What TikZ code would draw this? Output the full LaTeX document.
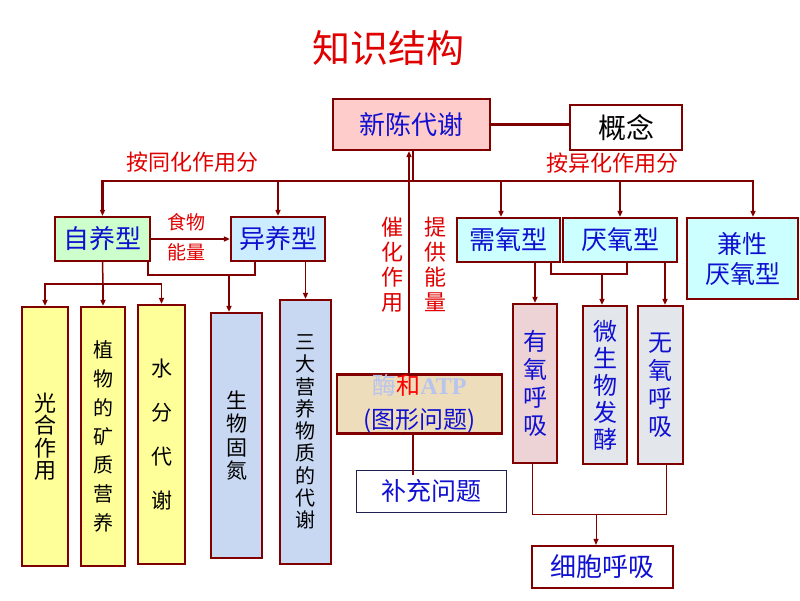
\documentclass[tikz,border=0pt]{standalone}
\usepackage{fontspec}
\setmainfont{Noto Sans CJK SC}
\newfontfamily\timesf{Liberation Serif}
\usetikzlibrary{arrows.meta}
\definecolor{dred}{HTML}{800000}
\definecolor{tblue}{HTML}{1010D0}
\definecolor{lred}{HTML}{E00000}
\definecolor{pinkf}{HTML}{FFCCCC}
\definecolor{greenf}{HTML}{CCFFCC}
\definecolor{bluef}{HTML}{CCECFF}
\definecolor{cyanf}{HTML}{CCFFFF}
\definecolor{yellowf}{HTML}{FFFF99}
\definecolor{lavf}{HTML}{C8D8F2}
\definecolor{rosef}{HTML}{EDD3D6}
\definecolor{grayf}{HTML}{E3E7EC}
\definecolor{tanf}{HTML}{EEDDBB}
\definecolor{fblue}{HTML}{B8C4F0}
\definecolor{navy}{HTML}{202050}
\newcommand\myfs[2]{\fontsize{#1}{#2}\selectfont}
\begin{document}
\begin{tikzpicture}[x=1pt,y=-1pt,
  box/.style={draw=dred, line width=2.2pt, inner sep=0pt, align=center, text=tblue},
  conn/.style={draw=dred, line width=1.5pt},
  tconn/.style={draw=dred, line width=2.2pt},
  arr/.style={conn, -{Triangle[length=6pt,width=5pt]}},
  tarr/.style={tconn, -{Triangle[length=6pt,width=5pt]}},
  lab/.style={text=lred, inner sep=0pt, align=center}]
\useasboundingbox (0,0) rectangle (800,600);
\fill[white] (0,0) rectangle (800,600);

% title
\node[lab, font=\myfs{38}{40}, text=lred] (title) at (388,48) {知识结构};

% top
\node[box, fill=pinkf, minimum width=157, minimum height=51, font=\myfs{26}{28}] (xc) at (411.5,124.5) {新陈代谢};
\node[box, fill=white, text=black, minimum width=112, minimum height=45, font=\myfs{28}{30}] (gn) at (626,127.5) {概念};
\node[lab, font=\myfs{22}{24}] (tonghua) at (192,162) {按同化作用分};
\node[lab, font=\myfs{22}{24}] (yihua) at (612,163) {按异化作用分};

% second row
\node[box, fill=greenf, minimum width=95, minimum height=44, font=\myfs{26}{28}] (zy) at (102.5,239) {自养型};
\node[box, fill=bluef, minimum width=94, minimum height=44, font=\myfs{26}{28}] (yy) at (278,239) {异养型};
\node[box, fill=cyanf, minimum width=103, minimum height=44, font=\myfs{26}{28}] (xy) at (508.5,240) {需氧型};
\node[box, fill=cyanf, minimum width=114, minimum height=44, font=\myfs{26}{28}] (ay) at (620,240) {厌氧型};
\node[box, fill=cyanf, minimum width=111, minimum height=81, font=\myfs{25}{30}] (jx) at (742.5,258.5) {兼性\\厌氧型};
\node[lab, font=\myfs{19}{20}] (shiwu) at (186,222) {食物};
\node[lab, font=\myfs{19}{20}] (nengl) at (186,252) {能量};

% vertical labels
\node[lab, font=\myfs{22}{25}] (cuihua) at (392,265) {催\\化\\作\\用};
\node[lab, font=\myfs{22}{25}] (tigong) at (435,264) {提\\供\\能\\量};

% third row left
\node[box, fill=yellowf, text=black, minimum width=46, minimum height=259, font=\myfs{22}{22.4}] (b1) at (45,436.5) {光\\合\\作\\用};
\node[box, fill=yellowf, text=black, minimum width=44, minimum height=259, font=\myfs{20}{28.7}] (b2) at (103,436.5) {植\\物\\的\\矿\\质\\营\\养};
\node[box, fill=yellowf, text=black, minimum width=47, minimum height=259, font=\myfs{21}{43.7}] (b3) at (161.5,434.5) {水\\分\\代\\谢};
\node[box, fill=lavf, text=black, minimum width=51, minimum height=245, font=\myfs{21}{23.3}] (b4) at (236.5,435.5) {生\\物\\固\\氮};
\node[box, fill=lavf, text=black, minimum width=51, minimum height=264, font=\myfs{20}{22.3}] (b5) at (305.5,432) {三\\大\\营\\养\\物\\质\\的\\代\\谢};

% middle
\node[box, fill=tanf, minimum width=165, minimum height=58, font=\myfs{24}{34}] (mei) at (419.5,404)
  {{\color{fblue}酶}{\color{red}和}{\timesf\bfseries\color{fblue}ATP}\\(图形问题)};
\node[box, draw=navy, line width=1pt, fill=white, minimum width=150, minimum height=42, font=\myfs{25}{27}] (bc) at (431,491) {补充问题};

% third row right
\node[box, fill=rosef, minimum width=44, minimum height=159, font=\myfs{24}{28}] (yo) at (535,383.5) {有\\氧\\呼\\吸};
\node[box, fill=grayf, minimum width=44, minimum height=158, font=\myfs{24}{27}] (ws) at (605,385) {微\\生\\物\\发\\酵};
\node[box, fill=grayf, minimum width=45, minimum height=158, font=\myfs{24}{28}] (wy) at (660.5,385) {无\\氧\\呼\\吸};
\node[box, fill=white, minimum width=141, minimum height=42, font=\myfs{26}{28}] (xb) at (602.5,567) {细胞呼吸};

% junction coordinates
\coordinate (J) at (413,181);
\coordinate (Z1) at (103,284);
\coordinate (ZY1) at (148,275);
\coordinate (ZY2) at (255,275);
\coordinate (ZY3) at (229,275);
\coordinate (A1) at (551,274);
\coordinate (A2) at (627,274);
\coordinate (A3) at (602,274);
\coordinate (B1) at (532,514);
\coordinate (B2) at (666,514);
\coordinate (B3) at (596,514);

% connectors top
\draw[tconn, line width=3pt] (xc.east |- 0,124) -- (gn.west |- 0,124);
\draw[tconn] (J) -- (J |- xc.south);
\draw[tarr] (J) -| (zy.north);
\draw[tarr] (J) -| (yy.north);
\draw[tarr, line width=2.6pt] (J) -| ([xshift=-7.5pt]xy.north);
\draw[tarr] (J) -| (ay.north);
\draw[arr] (J) -| ([xshift=10.5pt]jx.north);
\draw[arr] ([xshift=-10.5pt]mei.north) -- ([xshift=-10.5pt]mei.north |- xc.south);

% autotroph / heterotroph
\draw[arr] (zy.east) -- (yy.west);
\draw[conn] (zy.south) -- (Z1);
\draw[arr] (Z1) -| (b1.north);
\draw[arr] (Z1) -| (b3.north);
\draw[arr] (Z1) -- (Z1 |- b2.north);
\draw[conn] (ZY1 |- zy.south) -- (ZY1) -- (ZY2) -- (ZY2 |- yy.south);
\draw[arr] (ZY3) -- (ZY3 |- b4.north);
\draw[arr] (b5.north |- yy.south) -- (b5.north);

% middle
\draw[conn] ([xshift=-6.5pt]mei.south) -- ([xshift=-18pt,yshift=-5pt]bc.north);

% aerobic / anaerobic
\draw[arr] (yo.north |- xy.south) -- (yo.north);
\draw[conn] (A1 |- xy.south) -- (A1) -- (A2) -- (A2 |- ay.south);
\draw[arr] (A3) -- (A3 |- ws.north);
\draw[arr] ([xshift=4.5pt]wy.north |- ay.south) -- ([xshift=4.5pt]wy.north);
\draw[conn, line width=1pt] (B1 |- yo.south) -- (B1) -- (B2) -- (B2 |- wy.south);
\draw[arr, line width=1pt] (B3) -- (B3 |- xb.north);
\end{tikzpicture}
\end{document}
